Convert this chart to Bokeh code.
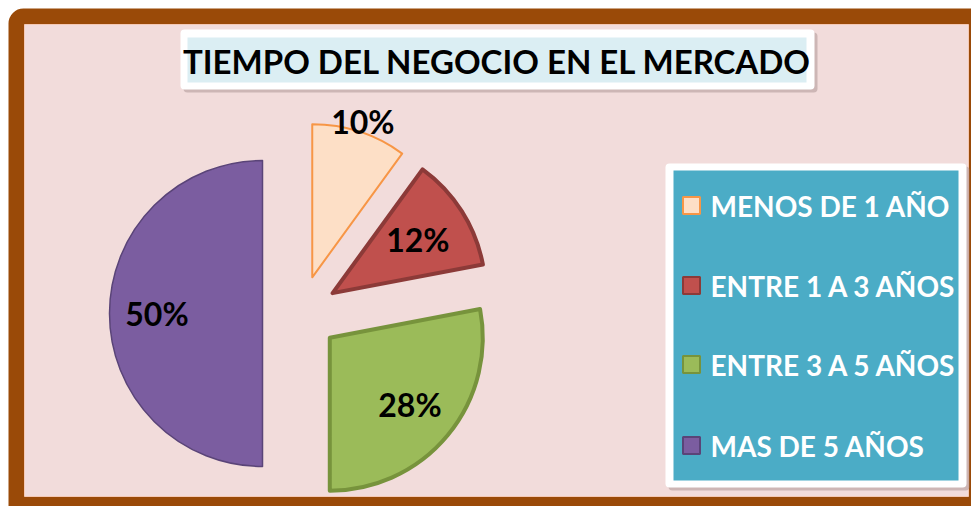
import math
from bokeh.plotting import figure
from bokeh.models import Range1d, ColumnDataSource
from bokeh.core.properties import value
from bokeh.embed import file_html
from bokeh.resources import INLINE

# ---- data ----
title = "TIEMPO DEL NEGOCIO EN EL MERCADO"
categories = ["MENOS DE 1 AÑO", "ENTRE 1 A 3 AÑOS", "ENTRE 3 A 5 AÑOS", "MAS DE 5 AÑOS"]
percents = [10, 12, 28, 50]

# ---- styles ----
fills = ["#FDDFC6", "#C0504D", "#9BBB59", "#7B5DA0"]
lines = ["#F79646", "#8C3A38", "#77933C", "#5A4478"]
line_w = [2, 4, 4, 1.5]
label_r = [1.07, 0.66, 0.68, 0.69]

W, H = 971, 506
p = figure(width=W, height=H, x_range=Range1d(0, W), y_range=Range1d(0, H),
           output_backend="svg", toolbar_location=None, min_border=0)
p.axis.visible = False
p.grid.visible = False
p.outline_line_color = None
p.background_fill_color = "white"
p.border_fill_color = "white"

# frame
p.quad(left=8, right=W, bottom=0, top=498, fill_color="#9A4A08", line_color=None,
       border_radius=(15, 0, 0, 0))
p.quad(left=24, right=968, bottom=10, top=482, fill_color="#F2DCDB", line_color="#F5C9B5", line_width=1)

# title box
p.quad(left=183, right=817, bottom=414, top=474, fill_color="#A89090", fill_alpha=0.5, line_color=None,
       border_radius=4)
p.quad(left=180, right=814, bottom=417, top=477, fill_color="white", line_color=None, border_radius=4)
p.quad(left=187, right=806, bottom=424, top=469, fill_color="#DBEEF3", line_color=None)
p.text(x=[497], y=[446], text=[title], text_font=value("Lato"), text_font_style="bold",
       text_font_size="33px", text_align="center", text_baseline="middle", text_color="black")

# pie
C = (300, 193)
R = 153
explode = 38
cum = 0.0
for i, (cat, v) in enumerate(zip(categories, percents)):
    t1 = cum
    t2 = cum + 360.0 * v / 100.0
    cum = t2
    tm = math.radians((t1 + t2) / 2)
    dx, dy = math.sin(tm), math.cos(tm)
    cx, cy = C[0] + explode * dx, C[1] + explode * dy
    src = ColumnDataSource(dict(x=[cx], y=[cy], s=[math.radians(90 - t2)], e=[math.radians(90 - t1)]))
    p.wedge(x="x", y="y", radius=R, start_angle="s", end_angle="e", source=src,
            fill_color=fills[i], line_color=lines[i], line_width=line_w[i], line_join="round")
    lx, ly = cx + label_r[i] * R * dx, cy + label_r[i] * R * dy
    p.text(x=[lx], y=[ly], text=[f"{v}%"], text_font=value("Lato"), text_font_style="bold",
           text_font_size="32px", text_align="center", text_baseline="middle", text_color="black")

# legend
p.quad(left=668, right=969, bottom=16, top=340, fill_color="#A89090", fill_alpha=0.5, line_color=None,
       border_radius=4)
p.quad(left=665, right=966, bottom=19, top=343, fill_color="white", line_color=None, border_radius=4)
p.quad(left=673, right=958, bottom=26, top=336, fill_color="#4BACC6", line_color=None)
rows_y = [301, 221, 142, 61]
for i, cat in enumerate(categories):
    p.scatter(x=[691], y=[rows_y[i]], marker="square", size=17, fill_color=fills[i],
              line_color=lines[i], line_width=2)
    p.text(x=[710], y=[rows_y[i]], text=[cat], text_font=value("Lato"), text_font_style="bold",
           text_font_size="28px", text_align="left", text_baseline="middle", text_color="white")

open("out.html", "w").write(file_html(p, INLINE))
